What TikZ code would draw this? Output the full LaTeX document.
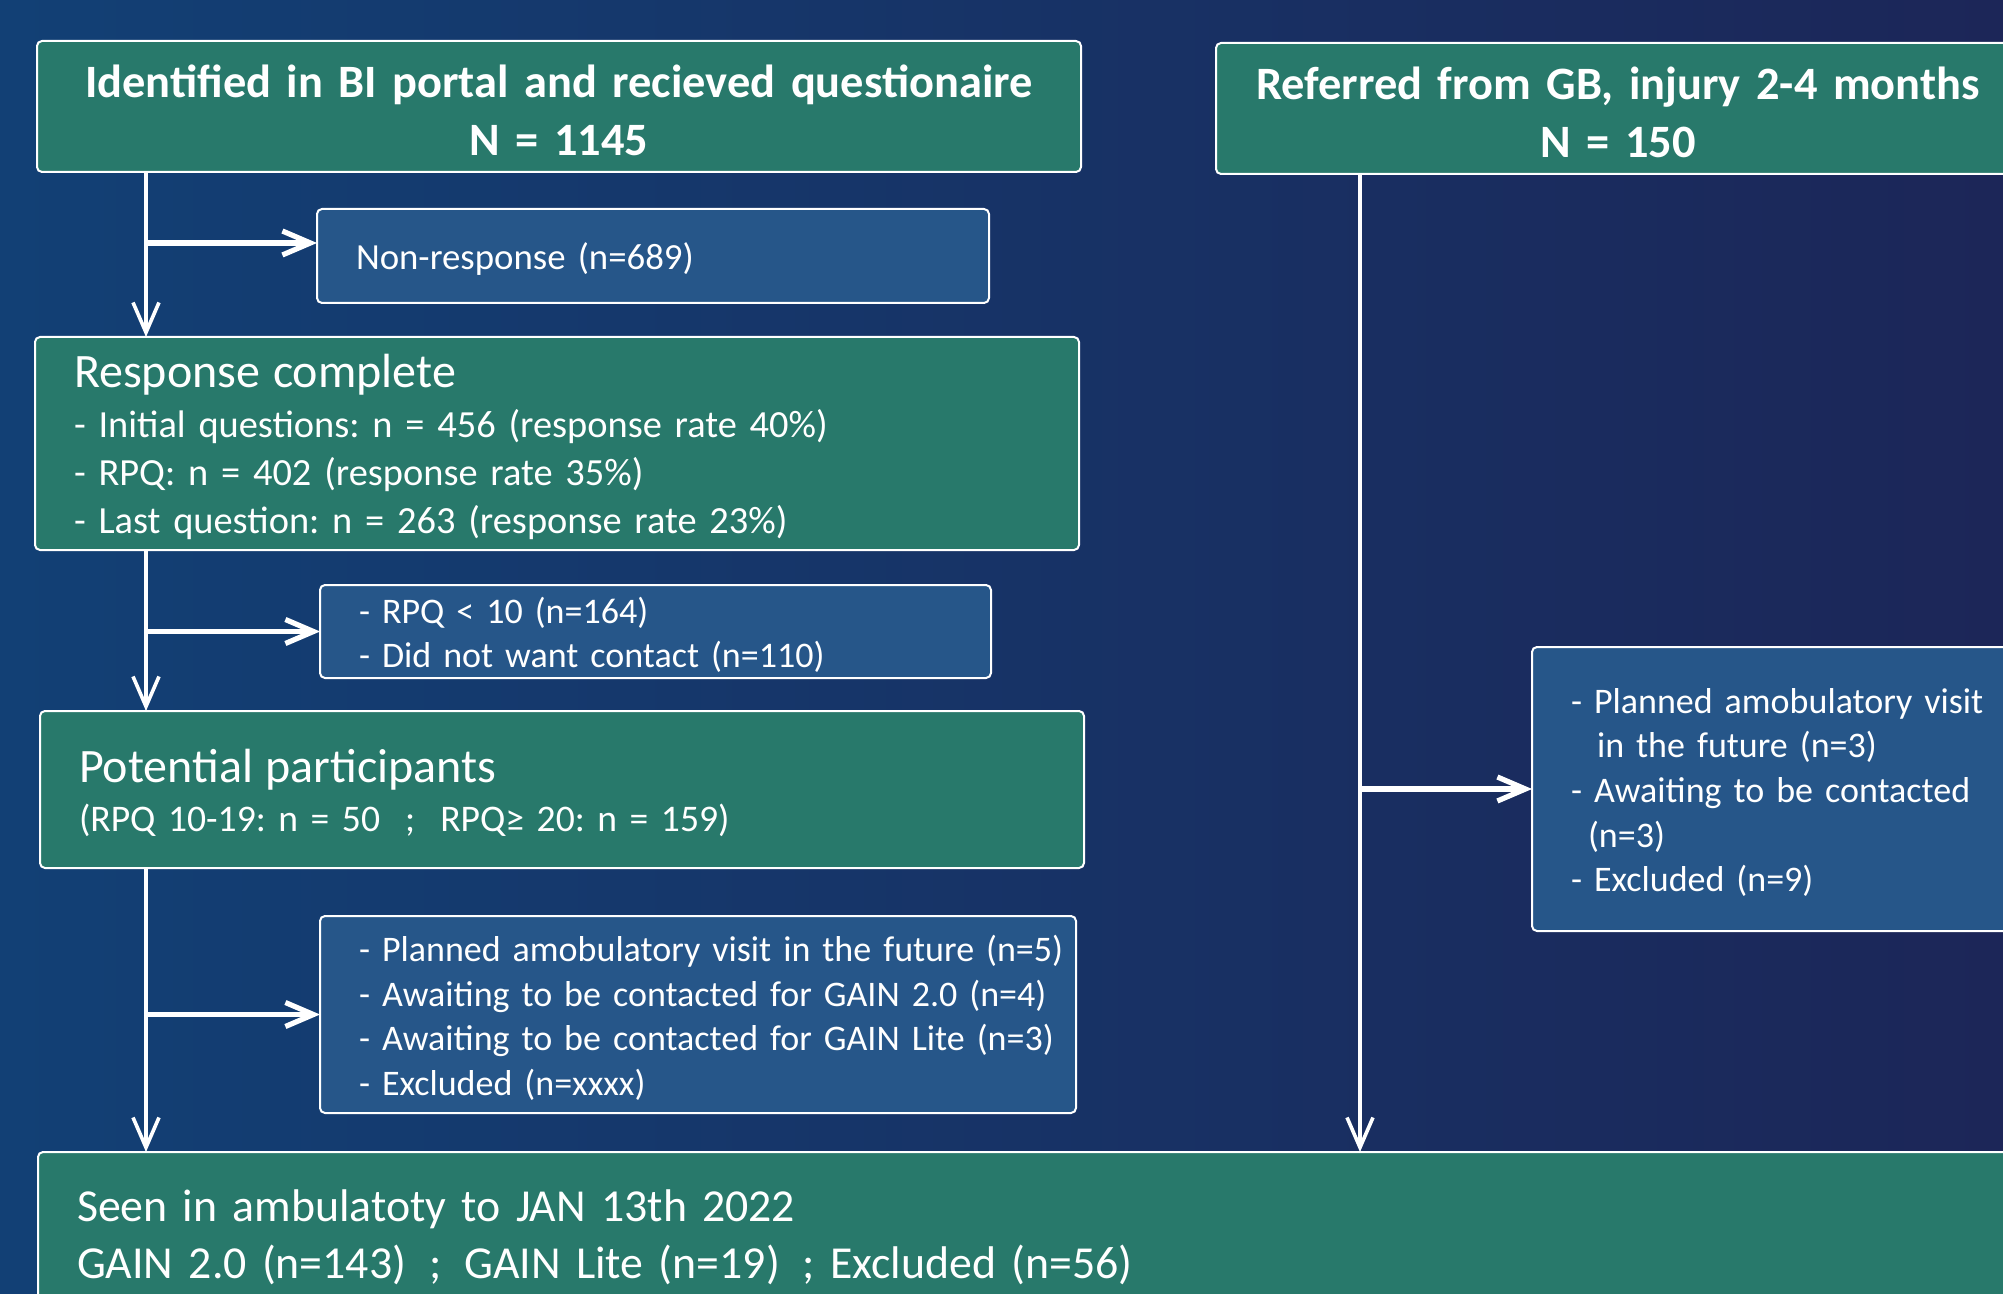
\documentclass[tikz,border=0pt]{standalone}
\usepackage{fontspec}
\setmainfont{Carlito}
\usetikzlibrary{arrows.meta, positioning}

\definecolor{bgleft}{RGB}{18,64,117}
\definecolor{bgright}{RGB}{28,38,88}
\definecolor{stagegreen}{RGB}{40,121,107}
\definecolor{dropblue}{RGB}{38,86,137}

\frenchspacing

\begin{document}
\begin{tikzpicture}[
    every node/.style={text=white},
    box/.style={
        rectangle,
        rounded corners=2.5pt,
        draw=white,
        line width=1pt,
        inner xsep=19.5pt,
        inner ysep=0pt,
        outer sep=0pt,
        align=left,
        anchor=north west,
        execute at end node={\endgraf\vspace{-3.5pt}}
    },
    stagebox/.style={
        box,
        fill=stagegreen,
        font=\fontsize{19.2}{24}\selectfont
    },
    titlebox/.style={
        stagebox,
        align=center,
        inner xsep=5pt,
        font=\fontsize{23.2}{29}\selectfont\bfseries
    },
    dropbox/.style={
        box,
        fill=dropblue,
        font=\fontsize{18}{22.3}\selectfont
    },
    trunk/.style={
        draw=white,
        line width=1.8pt,
        -{Straight Barb[length=15pt, width=13pt]}
    },
    branch/.style={
        draw=white,
        line width=2.6pt,
        -{Straight Barb[length=14pt, width=12pt]}
    }
]

% Background
\useasboundingbox (0,0) rectangle (1001.5pt,-647pt);
\clip (0,0) rectangle (1001.5pt,-647pt);
\fill[left color=bgleft, right color=bgright] (0,0) rectangle (1001.5pt,-647pt);

% Source nodes
\node[titlebox, text width=512pt, minimum height=65.5pt] (ident) at (18.5pt,-20.5pt) {
    Identified in BI portal and recieved questionaire \\
    N = 1145
};
\node[titlebox, text width=392pt, minimum height=65.5pt,
      right=67.5pt of ident.north east, anchor=north west, yshift=-1pt] (referred) {
    Referred from GB, injury 2-4 months \\
    N = 150
};

% Left column stages
\node[stagebox, text width=483pt, minimum height=106.5pt,
      below=82.5pt of ident.south west, anchor=north west, xshift=-1pt] (resp) {
    {\fontsize{24}{28}\selectfont Response complete} \\[1pt]
    - Initial questions: n = 456 (response rate 40\%) \\
    - RPQ: n = 402 (response rate 35\%) \\
    - Last question: n = 263 (response rate 23\%)
};
\node[stagebox, text width=483pt, minimum height=78.5pt, font=\fontsize{18.8}{24.5}\selectfont,
      below=80.5pt of resp.south west, anchor=north west, xshift=2.5pt] (potential) {
    {\fontsize{24}{28}\selectfont Potential participants} \\
    (RPQ 10-19: n = 50\ \ ;\ \ RPQ≥ 20: n = 159)
};
\node[stagebox, text width=1000pt, minimum height=82pt, font=\fontsize{22.9}{28.5}\selectfont,
      below=142pt of potential.south west, anchor=north west, xshift=-1pt] (seen) {
    Seen in ambulatoty to JAN 13th 2022 \\
    GAIN 2.0 (n=143)\ \,;\ \,GAIN Lite (n=19)\ \,; Excluded (n=56)
};

% Drop-out nodes
\node[dropbox, text width=297pt, minimum height=47pt, font=\fontsize{18.4}{22.3}\selectfont,
      below right=18.5pt and 140pt of ident.south west] (nonresp) {Non-response (n=689)};
\node[dropbox, text width=296.5pt, minimum height=46.5pt, font=\fontsize{18}{22}\selectfont,
      below right=17.5pt and 142.5pt of resp.south west] (rpq) {
    - RPQ < 10 (n=164) \\
    - Did not want contact (n=110)
};
\node[dropbox, text width=339pt, minimum height=98.5pt,
      below right=24pt and 140pt of potential.south west] (pending) {
    \mbox{- Planned amobulatory visit in the future (n=5)} \\
    \mbox{- Awaiting to be contacted for GAIN 2.0 (n=4)} \\
    \mbox{- Awaiting to be contacted for GAIN Lite (n=3)} \\
    - Excluded (n=xxxx)
};
\node[dropbox, text width=300pt, minimum height=142pt,
      below right=236.5pt and 158pt of referred.south west] (pendingR) {
    - Planned amobulatory visit \\
    \hspace*{13pt}in the future (n=3) \\
    - Awaiting to be contacted \\
    \hspace*{8.5pt}(n=3) \\
    - Excluded (n=9)
};

% Trunk lines
\coordinate (ltrunk) at (73pt,0);
\coordinate (rtrunk) at (680pt,0);
\coordinate (nrjoin) at ([yshift=6.5pt]nonresp.west);

\draw[trunk] (ident.south -| ltrunk) -- (resp.north -| ltrunk);
\draw[trunk] (resp.south -| ltrunk) -- (potential.north -| ltrunk);
\draw[trunk] (potential.south -| ltrunk) -- (seen.north -| ltrunk);
\draw[trunk] (referred.south -| rtrunk) -- (seen.north -| rtrunk);

% Side arrows
\draw[branch] (nrjoin -| ltrunk) -- (nrjoin);
\draw[branch] (rpq.west -| ltrunk) -- (rpq.west);
\draw[branch] (pending.west -| ltrunk) -- (pending.west);
\draw[branch] (pendingR.west -| rtrunk) -- (pendingR.west);

\end{tikzpicture}
\end{document}
